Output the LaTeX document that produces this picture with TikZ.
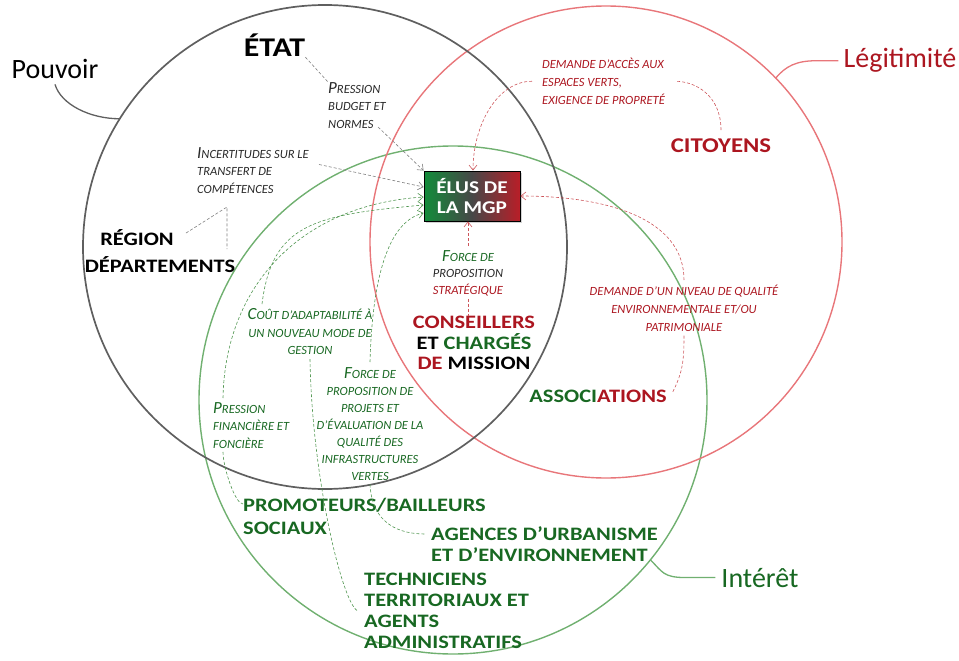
\documentclass[tikz,border=0pt]{standalone}
\usepackage{fontspec}
\setmainfont{Carlito}
\newfontfamily\widesans[FakeStretch=1.18]{Carlito}
\usepackage{tikz}
\usetikzlibrary{arrows.meta,shadows}

\definecolor{pouvgray}{RGB}{95,95,95}
\definecolor{legitred}{RGB}{232,118,122}
\definecolor{intergreen}{RGB}{112,176,112}
\definecolor{tred}{RGB}{172,22,32}
\definecolor{tgreen}{RGB}{24,104,34}
\definecolor{tgray}{RGB}{40,40,40}
\definecolor{dgreen}{RGB}{80,150,80}
\definecolor{dred}{RGB}{205,85,90}
\definecolor{boxgreen}{RGB}{18,140,58}
\definecolor{boxred}{RGB}{185,30,40}

\newcommand\lblfont{\fontsize{12.5}{17.8}\selectfont\itshape}
\newcommand\actfont{\widesans\fontsize{19}{21.5}\selectfont\bfseries}
\newcommand\Ini[1]{{\fontsize{17}{17}\selectfont #1}}

\begin{document}
\begin{tikzpicture}[x=1pt, y=-1pt,
  ring/.style={circle, inner sep=0pt, outer sep=0pt},
  lbl/.style={inner sep=0pt, font=\lblfont, align=left},
  lblc/.style={lbl, align=center},
  actor/.style={inner sep=0pt, font=\actfont, align=left},
  tag/.style={inner sep=0pt, font=\fontsize{28}{30}\selectfont},
  lead/.style={line width=1.3pt},
  gline/.style={densely dashed, line width=0.6pt, draw=gray},
  garr/.style={gline, -{Straight Barb[length=5pt,width=8pt]}},
  vline/.style={densely dashed, line width=0.6pt, draw=dgreen},
  varr/.style={vline, -{Straight Barb[length=5pt,width=8pt]}},
  rline/.style={densely dashed, line width=0.6pt, draw=dred},
  rarr/.style={rline, -{Straight Barb[length=5pt,width=8pt]}}
]
  \useasboundingbox (0,0) rectangle (959,661);

  % Three spheres
  \node[ring, draw=intergreen, line width=1.4pt, minimum size=508pt] (cG) at (453,400) {};
  \node[ring, draw=legitred, line width=1.4pt, minimum size=472pt] (cL) at (606,242) {};
  \node[ring, draw=pouvgray, line width=1.7pt, minimum size=484pt] (cP) at (325,247) {};

  % Sphere names
  \node[tag, anchor=base] (pouv) at (55,78) {Pouvoir};
  \node[tag, anchor=base, text=tred] (legit) at (900,68) {Légitimité};
  \node[tag, anchor=base, text=tgreen] (inter) at (760,587) {Intérêt};

  \draw[lead, draw=pouvgray] ([yshift=-6pt]pouv.south) .. controls +(6,20) and +(-30,0) .. (cP.148);
  \draw[lead, draw=legitred] ([xshift=-5pt]legit.west) -- ++(-22,0) .. controls +(-20,0) and +(10,-12) .. (cL.44);
  \draw[lead, draw=intergreen] ([xshift=-6pt]inter.west) -- ++(-30,0) .. controls +(-22,0) and +(12,12) .. (cG.-39);

  % Central actor
  \node[draw=black, line width=0.9pt, left color=boxgreen, right color=boxred, middle color=black!72,
        minimum width=96pt, minimum height=50pt, align=center, text=white,
        font=\widesans\fontsize{18}{20}\selectfont\bfseries,
        drop shadow={opacity=0.35, shadow xshift=2pt, shadow yshift=-2pt}] (elus) at (472,196) {ÉLUS DE\\LA MGP};

  % Power side
  \node[actor, anchor=base, font=\widesans\fontsize{27}{29}\selectfont\bfseries] (etat) at (274.5,57) {ÉTAT};
  \node[actor, anchor=base] (region) at (137,245) {RÉGION};
  \node[actor, anchor=base] (dept) at (160,272) {DÉPARTEMENTS};

  \node[lbl, anchor=north west, text=tgray] (pbn) at (328,82) {\Ini{P}RESSION\\BUDGET ET\\NORMES};
  \node[lbl, anchor=north west, text=tgray] (incert) at (197,147) {\Ini{I}NCERTITUDES SUR LE\\TRANSFERT DE\\COMPÉTENCES};
  \coordinate (ic) at (227,207);

  % Legitimacy side
  \node[lbl, anchor=north west, text=tred] (dacc) at (542,58) {DEMANDE D’ACCÈS AUX\\ESPACES VERTS,\\EXIGENCE DE PROPRETÉ};
  \node[actor, anchor=base, text=tred, font=\widesans\fontsize{21}{23}\selectfont\bfseries] (citoyens) at (721,152) {CITOYENS};
  \node[lblc, anchor=north, text=tred] (ddq) at (684,285) {DEMANDE D’UN NIVEAU DE QUALITÉ\\ENVIRONNEMENTALE ET/OU\\PATRIMONIALE};
  \node[actor, anchor=base] (assoc) at (598,402) {{\color{tgreen}ASSOCI}{\color{tred}ATIONS}};

  % Middle
  \node[lblc, anchor=north, font=\fontsize{12.5}{16.5}\selectfont\itshape] (fstrat) at (468,250)
    {{\color{tgreen}\Ini{F}ORCE DE}\\{\color{tgray}PROPOSITION}\\{\color{tred}STRATÉGIQUE}};
  \node[actor, anchor=north, align=center, font=\widesans\fontsize{19}{20.5}\selectfont\bfseries] (conseil) at (474,316)
    {{\color{tred}CONSEILLERS}\\ET {\color{tgreen}CHARGÉS}\\{\color{tred}DE} MISSION};

  % Interest side
  \node[lblc, anchor=north, text=tgreen] (cout) at (310,308) {\Ini{C}OÛT D’ADAPTABILITÉ À\\UN NOUVEAU MODE DE\\GESTION};
  \node[lbl, anchor=north west, text=tgreen] (pff) at (213,402) {\Ini{P}RESSION\\FINANCIÈRE ET\\FONCIÈRE};
  \node[lblc, anchor=north, text=tgreen, font=\fontsize{12.5}{17}\selectfont\itshape] (fpp) at (370,367)
    {\Ini{F}ORCE DE\\PROPOSITION DE\\PROJETS ET\\D’ÉVALUATION DE LA\\QUALITÉ DES\\INFRASTRUCTURES\\VERTES};

  \node[actor, anchor=north west, text=tgreen, font=\widesans\fontsize{19}{23}\selectfont\bfseries] (promo) at (243,498) {PROMOTEURS/BAILLEURS\\SOCIAUX};
  \node[actor, anchor=north west, text=tgreen] (agences) at (431,526) {AGENCES D’URBANISME\\ET D’ENVIRONNEMENT};
  \node[actor, anchor=north west, text=tgreen, font=\widesans\fontsize{19}{21}\selectfont\bfseries] (tech) at (364,573) {TECHNICIENS\\TERRITORIAUX ET\\AGENTS\\ADMINISTRATIFS};

  % Power links
  \draw[gline] (etat.south east) -- (pbn.north west);
  \draw[garr] ([xshift=-8pt,yshift=2pt]pbn.south east) -- (elus.north west);
  \draw[garr] ([xshift=10pt,yshift=6pt]incert.east) -- ([yshift=9pt]elus.west);
  \draw[gline] ([xshift=12pt,yshift=4pt]region.east) -- (ic) -- ++(0,42);

  % Legitimacy links
  \draw[rline] ([yshift=8pt]citoyens.north) .. controls +(0,-35) and +(20,0) .. ([xshift=10pt]dacc.east);
  \draw[rarr] ([xshift=-10pt]dacc.west) .. controls +(-35,0) and +(0,-45) .. ([xshift=1pt]elus.north);
  \draw[rline] ([xshift=6pt,yshift=4pt]assoc.east) .. controls +(10,-20) and +(0,25) .. ([yshift=-4pt]ddq.south);
  \draw[rarr] ([yshift=5pt]ddq.north) .. controls +(0,-60) and +(90,0) .. (elus.east);
  \draw[rarr] ([yshift=4pt]fstrat.north) -- (fstrat.north |- elus.south);
  \draw[rline] ([yshift=-3pt]fstrat.south) -- (fstrat.south |- conseil.north);

  % Interest links
  \draw[varr] ([xshift=10pt,yshift=4pt]pff.north west) .. controls +(2,-110) and +(-125,8) .. ([yshift=-1pt]elus.west);
  \draw[varr] ([xshift=-48pt,yshift=4pt]cout.north) .. controls +(10,-80) and +(-110,10) .. ([yshift=-9pt]elus.west);
  \draw[varr] ([yshift=5pt]fpp.north) .. controls +(2,-70) and +(-40,10) .. ([yshift=-17pt]elus.west);
  \draw[vline] ([xshift=10pt,yshift=-3pt]pff.south west) .. controls +(0,15) and +(-8,0) .. ([yshift=-6pt]promo.north west);
  \draw[vline] ([yshift=-4pt]fpp.south) .. controls +(2,40) and +(-25,0) .. ([xshift=-6pt,yshift=-8pt]agences.north west);
  \draw[vline] ([yshift=-4pt]cout.south) .. controls +(2,120) and +(-15,-5) .. ([xshift=-6pt]tech.west);
\end{tikzpicture}
\end{document}
